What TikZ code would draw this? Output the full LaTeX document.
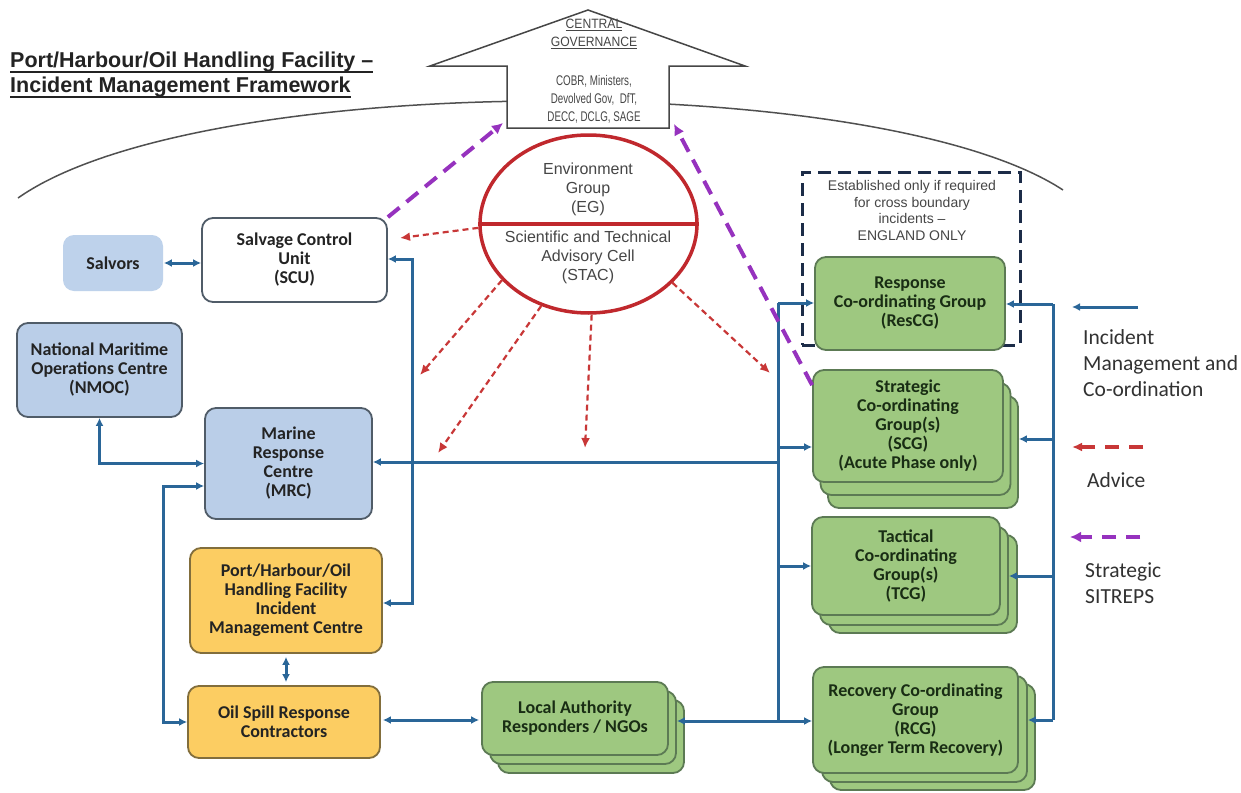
\documentclass[tikz,border=0pt]{standalone}
\usepackage{fontspec}
\setmainfont{Liberation Sans}
\newfontfamily\carl{Carlito}
\usetikzlibrary{arrows.meta,calc,shapes.geometric}
\definecolor{cblue}{RGB}{42,102,152}
\definecolor{bfill}{RGB}{186,206,232}
\definecolor{sfill}{RGB}{190,210,235}
\definecolor{bord}{RGB}{80,92,104}
\definecolor{yfill}{RGB}{252,205,98}
\definecolor{ybord}{RGB}{130,110,60}
\definecolor{gfill}{RGB}{158,200,128}
\definecolor{gbord}{RGB}{92,122,84}
\definecolor{gtext}{RGB}{25,45,20}
\definecolor{ered}{RGB}{192,40,45}
\definecolor{adv}{RGB}{200,55,55}
\definecolor{purp}{RGB}{150,50,190}
\definecolor{navy}{RGB}{28,44,72}
\definecolor{txt}{RGB}{35,35,35}
\definecolor{gtxt}{RGB}{70,70,70}
\definecolor{lgtxt}{RGB}{50,50,50}
\definecolor{arcc}{RGB}{80,80,80}
\newcommand\cnd[1]{\scalebox{0.7}[1]{#1}}
\newcommand\cnb[1]{\scalebox{0.9}[1]{#1}}
\newcommand\myul[3]{\setbox0=\hbox{#3}\rlap{\rule[#2]{\wd0}{#1}}\box0}
\begin{document}
\begin{tikzpicture}[x=1pt,y=-1pt,
 box/.style={rounded corners=11pt, line width=1.8pt, inner sep=2pt, align=center,
   font=\carl\bfseries\fontsize{18}{19}\selectfont, text=txt},
 bbox/.style={box, fill=bfill, draw=bord},
 ybox/.style={box, fill=yfill, draw=ybord},
 gbox/.style={box, fill=gfill, draw=gbord, text=gtext},
 wbox/.style={box, fill=white, draw=bord},
 conn/.style={draw=cblue, line width=3pt},
 tipe/.style={-{Latex[length=8pt,width=8pt]}},
 tipb/.style={{Latex[length=8pt,width=8pt]}-{Latex[length=8pt,width=8pt]}},
 advice/.style={draw=adv, line width=2.2pt, dash pattern=on 6pt off 4pt, -{Latex[length=10pt,width=9pt]}},
 sitrep/.style={draw=purp, line width=4pt, dash pattern=on 15pt off 9pt, -{Latex[length=11pt,width=11pt]}},
 lgd/.style={font=\carl\fontsize{21.5}{26}\selectfont, text=lgtxt, align=left, inner sep=0pt, anchor=west},
]
\useasboundingbox[fill=white] (0,0) rectangle (1241,792);

% title
\node[anchor=west, align=left, inner sep=0pt, text=txt,
  font=\bfseries\fontsize{21.5}{25}\selectfont] (title) at (10,75)
  {\myul{1.8pt}{-5.5pt}{Port/Harbour/Oil Handling Facility –}\\\myul{1.8pt}{-5.5pt}{Incident Management Framework}};

% big arc
\draw[line width=1.5pt, draw=arcc] (18,198) .. controls (200,70) and (880,70) .. (1063,190);

% central governance arrow
\draw[fill=white, draw=gtxt, line width=1.5pt]
  (588,10) -- (745,66) -- (669,66) -- (669,128) -- (507,128) -- (507,66) -- (430,66) -- cycle;
\coordinate (cgL) at (503,123);
\coordinate (cgR) at (674,124);
\node[align=center, inner sep=0pt, text=gtxt, font=\fontsize{13.5}{18}\selectfont] (cg) at (594,34)
  {\myul{0.9pt}{-3pt}{\cnb{CENTRAL}}\\\myul{0.9pt}{-3pt}{\cnb{GOVERNANCE}}};
\node[align=center, inner sep=0pt, text=gtxt, font=\fontsize{14}{18}\selectfont] (cgt) at (594,99)
  {\cnd{COBR, Ministers,}\\\cnd{Devolved Gov,~~DfT,}\\\cnd{DECC, DCLG, SAGE}};

% environment group ellipse
\node[ellipse, draw=ered, line width=3.5pt, fill=white, minimum width=217pt, minimum height=178pt, inner sep=0pt] (env) at (588.5,224) {};
\draw[ered, line width=3.5pt] (env.west) -- (env.east);
\node[align=center, inner sep=0pt, text=gtxt, font=\fontsize{16}{19}\selectfont] (eg) at (588,189) {Environment\\Group\\(EG)};
\node[align=center, inner sep=0pt, text=gtxt, font=\fontsize{16}{19}\selectfont] (stac) at (588,257) {Scientific and Technical\\Advisory Cell\\(STAC)};

% established box
\node[draw=navy, line width=3pt, dash pattern=on 13pt off 7pt, minimum width=218pt, minimum height=173pt, inner sep=0pt] (est) at (911,258.5) {};
\node[align=center, inner sep=0pt, text=gtxt, font=\fontsize{14}{16.5}\selectfont] (estt) at (912,210.5)
  {Established only if required\\for cross boundary\\incidents –\\ENGLAND ONLY};

% boxes left
\node[box, fill=sfill, draw=none, minimum width=100pt, minimum height=56pt] (salv) at (113,263) {Salvors};
\node[wbox, minimum width=185pt, minimum height=84pt] (scu) at (294.5,260) {Salvage Control\\Unit\\(SCU)};
\node[bbox, minimum width=165pt, minimum height=94pt] (nmoc) at (99.5,370) {National Maritime\\Operations Centre\\(NMOC)};
\node[bbox, minimum width=167pt, minimum height=111pt] (mrc) at (288.5,463.5) {Marine\\Response\\Centre\\(MRC)};
\node[ybox, minimum width=192pt, minimum height=105pt] (pimc) at (286,600.5) {Port/Harbour/Oil\\Handling Facility\\Incident\\Management Centre};
\node[ybox, minimum width=192pt, minimum height=72pt] (osrc) at (284,722) {Oil Spill Response\\Contractors};

% local authority stack
\node[gbox, minimum width=186pt, minimum height=73pt] (la3) at (591,736.5) {};
\node[gbox, minimum width=186pt, minimum height=73pt] (la2) at (583,727.5) {};
\node[gbox, minimum width=186pt, minimum height=73pt] (la) at (575,718.5) {Local Authority\\Responders / NGOs};

% right boxes
\node[gbox, minimum width=190pt, minimum height=93pt] (rescg) at (910,303.5) {Response\\Co-ordinating Group\\(ResCG)};
\node[gbox, minimum width=190pt, minimum height=112pt] (scg3) at (923,452) {};
\node[gbox, minimum width=190pt, minimum height=112pt] (scg2) at (915.5,439) {};
\node[gbox, minimum width=190pt, minimum height=112pt] (scg) at (908,426) {Strategic\\Co-ordinating\\Group(s)\\(SCG)\\(Acute Phase only)};
\node[gbox, minimum width=188pt, minimum height=98pt] (tcg3) at (923,584) {};
\node[gbox, minimum width=188pt, minimum height=98pt] (tcg2) at (914,576) {};
\node[gbox, minimum width=188pt, minimum height=98pt] (tcg) at (906,566) {Tactical\\Co-ordinating\\Group(s)\\(TCG)};
\node[gbox, minimum width=205pt, minimum height=106pt] (rcg3) at (932.5,737) {};
\node[gbox, minimum width=205pt, minimum height=106pt] (rcg2) at (924.5,729) {};
\node[gbox, minimum width=205pt, minimum height=106pt] (rcg) at (915.5,720) {Recovery Co-ordinating\\Group\\(RCG)\\(Longer Term Recovery)};

% blue connectors
\coordinate (v1) at (412,259);
\coordinate (v2) at (412,603);
\draw[conn,tipb] (scu.east |- v1) -- (v1) -- (v2) -- (pimc.east |- v2);
\draw[conn,tipb] (salv.east) -- (salv.east -| scu.west);
\draw[conn,tipb] (nmoc.south) |- (mrc.west);
\coordinate (l1) at (163,486);
\coordinate (l2) at (163,722);
\draw[conn,tipb] (mrc.west |- l1) -- (l1) -- (l2) -- (osrc.west |- l2);
\draw[conn,tipb,shorten <=3pt,shorten >=3pt] (pimc.south) -- (pimc.south |- osrc.north);
\coordinate (m1) at (430,720);
\draw[conn,tipb,shorten <=2pt,shorten >=2pt] (osrc.east |- m1) -- (la.west |- m1);

\coordinate (b1) at (778,303);
\coordinate (b0) at (778,462);
\coordinate (b2) at (778,447);
\coordinate (b3) at (778,566);
\coordinate (b4) at (778,721);
\draw[conn] (b1) -- (b4);
\draw[conn,tipe] (b1) -- (rescg.west |- b1);
\draw[conn,tipe] (b2) -- (scg.west |- b2);
\draw[conn,tipe] (b3) -- (tcg.west |- b3);
\draw[conn,tipe] (b0) -- (mrc.east |- b0);
\draw[conn,tipb] (la2.east |- b4) -- (rcg.west |- b4);

\coordinate (r1) at (1053,304);
\coordinate (r2) at (1053,439);
\coordinate (r3) at (1053,576);
\coordinate (r4) at (1053,720);
\draw[conn] (r1) -- (r4);
\draw[conn,tipe] (r1) -- (rescg.east |- r1);
\draw[conn,tipe] (r2) -- (scg3.east |- r2);
\draw[conn,tipe] (r3) -- (tcg2.east |- r3);
\draw[conn,tipe] (r4) -- (rcg2.east |- r4);

% advice arrows
\coordinate (ad1) at (400,238);
\coordinate (ad2) at (420,375);
\coordinate (ad3) at (438,453);
\coordinate (ad4) at (585,448);
\coordinate (ad5) at (770,373);
\draw[advice] (env.182) -- (ad1);
\draw[advice] (env.213) -- (ad2);
\draw[advice] (env.240) -- (ad3);
\draw[advice] (env.272) -- (ad4);
\draw[advice] (env.325) -- (ad5);

% strategic sitreps
\draw[sitrep] (scu.north east) -- (cgL);
\draw[sitrep] ($(scg.north west)+(0,16)$) -- (cgR);

% legend
\coordinate (lg1a) at (1138,307);
\coordinate (lg1b) at (1072,307);
\draw[conn,tipe] (lg1a) -- (lg1b);
\node[lgd] (lgt1) at (1083,363) {Incident\\Management and\\Co-ordination};
\coordinate (lg2a) at (1143,447);
\coordinate (lg2b) at (1072,447);
\draw[advice, line width=4pt, dash pattern=on 14pt off 10pt] (lg2a) -- (lg2b);
\node[lgd] (lgt2) at (1087,480) {Advice};
\coordinate (lg3a) at (1140,537);
\coordinate (lg3b) at (1070,537);
\draw[sitrep, dash pattern=on 14pt off 10pt] (lg3a) -- (lg3b);
\node[lgd] (lgt3) at (1085,583.5) {Strategic\\SITREPS};
\end{tikzpicture}
\end{document}
